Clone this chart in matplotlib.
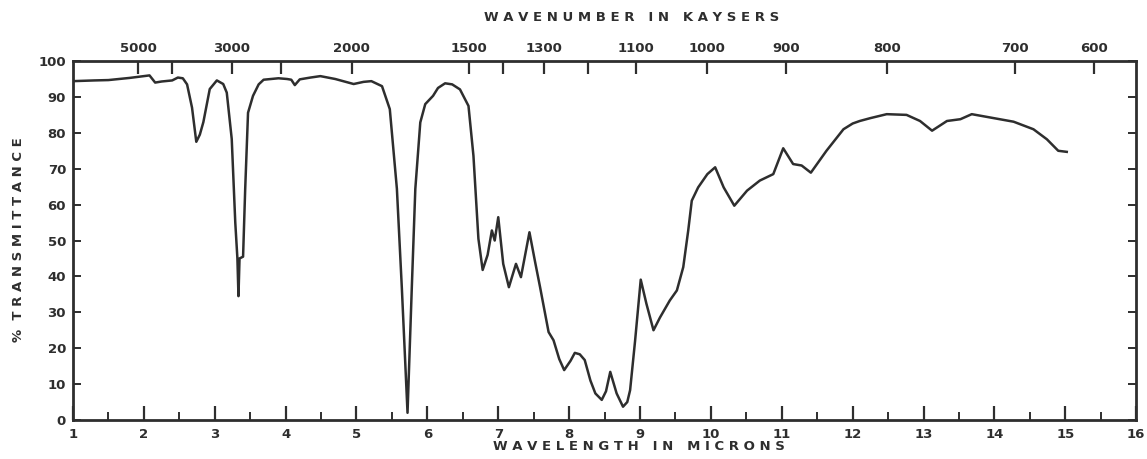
import matplotlib
matplotlib.use("Agg")
import matplotlib.pyplot as plt

# IR spectrum, wavelength in microns vs percent transmittance
wavelength = [1.00, 1.30, 1.50, 1.80, 2.00, 2.08, 2.16, 2.25, 2.40, 2.48, 2.55,
              2.61, 2.68, 2.74, 2.79, 2.84, 2.93, 3.03, 3.12, 3.17, 3.24,
              3.29, 3.32, 3.335, 3.35, 3.40, 3.43, 3.47, 3.54, 3.62, 3.69,
              3.90, 4.02, 4.08, 4.13, 4.20, 4.35, 4.49, 4.70, 4.96, 5.10,
              5.21, 5.36, 5.47, 5.57, 5.64, 5.72, 5.78, 5.83, 5.90, 5.97,
              6.08, 6.15, 6.25, 6.35, 6.46, 6.58, 6.65, 6.72, 6.78, 6.85, 6.91,
              6.95, 7.00, 7.07, 7.15, 7.25, 7.32, 7.44, 7.52, 7.59, 7.71,
              7.78, 7.86, 7.93, 8.02, 8.08, 8.15, 8.22, 8.30, 8.37, 8.46, 8.52,
              8.58, 8.67, 8.76, 8.82, 8.86,
              8.93, 9.01, 9.09, 9.19, 9.28, 9.42, 9.52, 9.61, 9.68, 9.73,
              9.82, 9.95, 10.06, 10.18, 10.33, 10.51, 10.69, 10.88, 11.02, 11.16,
              11.28, 11.41, 11.63, 11.87, 12.00, 12.10, 12.25, 12.48, 12.76, 12.95,
              13.12, 13.33, 13.52, 13.68, 13.99, 14.27, 14.55, 14.74, 14.90, 15.02]
transmittance = [94.4, 94.6, 94.7, 95.3, 95.8, 96.0, 94.0, 94.3, 94.6, 95.4, 95.2,
                 93.5, 87.0, 77.5, 79.5, 83.0, 92.2, 94.6, 93.6, 91.2, 78.3,
                 55.0, 45.0, 34.5, 45.0, 45.5, 64.4, 85.6, 90.3, 93.5, 94.8,
                 95.2, 95.0, 94.8, 93.3, 94.9, 95.4, 95.8, 95.0, 93.6, 94.2,
                 94.4, 93.0, 86.6, 64.4, 36.7, 2.0, 36.7, 64.4, 82.9, 88.0,
                 90.3, 92.5, 93.8, 93.5, 92.1, 87.5, 73.6, 50.5, 41.8, 46.0, 52.8,
                 50.0, 56.5, 43.5, 37.0, 43.5, 39.8, 52.3, 44.0, 37.0, 24.5,
                 22.2, 17.0, 13.9, 16.5, 18.7, 18.3, 16.7, 11.0, 7.4, 5.6, 8.0,
                 13.4, 7.4, 3.7, 5.0, 8.3,
                 22.0, 39.1, 32.4, 25.0, 28.5, 33.3, 36.1, 42.6, 52.8, 61.1,
                 64.8, 68.5, 70.4, 64.8, 59.7, 63.9, 66.7, 68.5, 75.7, 71.3,
                 70.9, 68.9, 75.0, 81.0, 82.6, 83.3, 84.1, 85.2, 85.0, 83.3,
                 80.6, 83.3, 83.8, 85.2, 84.1, 83.1, 81.0, 78.2, 75.0, 74.7]

# wavenumber scale printed along the top (position in microns, label)
top_tick_pos = [1.92, 2.40, 3.24, 3.94, 4.93, 6.59, 7.07, 7.64, 8.26, 8.94,
                9.94, 11.06, 12.49, 14.29, 15.40]
top_tick_labels = ["5000", "", "3000", "", "2000", "1500", "", "1300", "", "1100",
                   "1000", "900", "800", "700", "600"]

ink = "#2e2e2e"
plt.rcParams["font.family"] = "DejaVu Sans"
plt.rcParams["font.weight"] = "bold"

fig = plt.figure(figsize=(11.47, 4.59), dpi=100)
ax = fig.add_axes([0.0636, 0.085, 0.927, 0.782])

ax.plot(wavelength, transmittance, color=ink, lw=1.8, solid_joinstyle="round")

ax.set_xlim(1, 16)
ax.set_ylim(0, 100)

ax.set_xticks(range(1, 17))
ax.set_xticks([x + 0.5 for x in range(1, 16)], minor=True)
ax.set_yticks(range(0, 101, 10))
ax.tick_params(axis="x", which="major", direction="in", length=10, width=1.6,
               color=ink, labelcolor=ink, labelsize=9.5, pad=6)
ax.tick_params(axis="x", which="minor", direction="in", length=6, width=1.4,
               color=ink)
ax.tick_params(axis="y", which="major", direction="in", length=6, width=1.4,
               color=ink, labelcolor=ink, labelsize=9.5, pad=5, right=True)
for lab in ax.get_xticklabels() + ax.get_yticklabels():
    lab.set_fontweight("bold")

for sp in ax.spines.values():
    sp.set_color(ink)
    sp.set_linewidth(2.0)

top = ax.twiny()
top.set_xlim(ax.get_xlim())
top.set_xticks(top_tick_pos)
top.set_xticklabels(top_tick_labels, fontweight="bold")
top.tick_params(axis="x", direction="in", length=9, width=1.6, color=ink,
                labelcolor=ink, labelsize=9.5, pad=4)
for sp in top.spines.values():
    sp.set_visible(False)

fig.text(0.551, 0.961, "W A V E N U M B E R   I N   K A Y S E R S", ha="center",
         va="center", fontsize=9.5, fontweight="bold", color=ink)
fig.text(0.557, 0.028, "W A V E L E N G T H   I N   M I C R O N S", ha="center",
         va="center", fontsize=9.5, fontweight="bold", color=ink)
fig.text(0.016, 0.477, "%  T R A N S M I T T A N C E", ha="center", va="center",
         rotation=90, fontsize=9.5, fontweight="bold", color=ink)

fig.savefig("out.png", dpi=100, facecolor="white")
